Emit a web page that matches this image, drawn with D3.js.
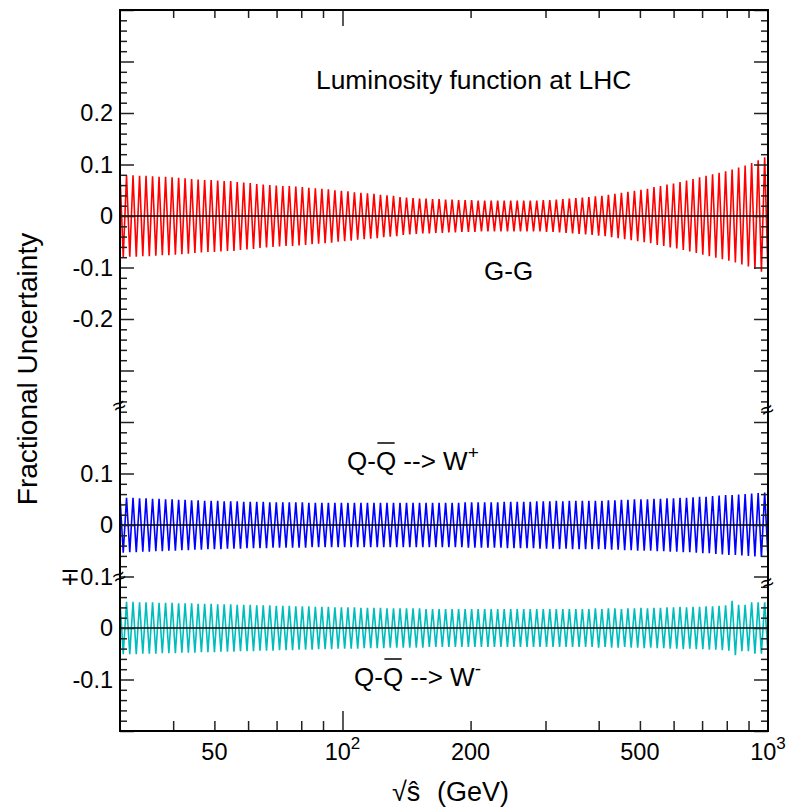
<!DOCTYPE html>
<html><head><meta charset="utf-8">
<script src="https://cdn.jsdelivr.net/npm/d3@7"></script>
<style>
body{margin:0;background:#fff}
svg{display:block}
text{font-family:"Liberation Sans",Arial,Helvetica,sans-serif;fill:#000}
</style>
</head><body>
<svg id="c" width="788" height="809"></svg>
<script>
// sqrt(s-hat) sampling points (GeV)
const sqrtS = [30.00,30.53,31.08,31.63,32.19,32.76,33.35,33.94,34.54,35.16,
35.78,36.42,37.06,37.72,38.39,39.08,39.77,40.48,41.20,41.93,
42.67,43.43,44.20,44.99,45.79,46.60,47.43,48.28,49.13,50.01,
50.90,51.80,52.72,53.66,54.61,55.58,56.57,57.58,58.60,59.64,
60.70,61.78,62.88,64.00,65.13,66.29,67.47,68.67,69.89,71.13,
72.40,73.68,74.99,76.33,77.68,79.06,80.47,81.90,83.35,84.84,
86.34,87.88,89.44,91.03,92.65,94.29,95.97,97.68,99.41,101.18,
102.98,104.81,106.67,108.57,110.50,112.46,114.46,116.50,118.57,120.68,
122.82,125.01,127.23,129.49,131.79,134.13,136.52,138.94,141.41,143.93,
146.49,149.09,151.74,154.44,157.18,159.98,162.82,165.72,168.66,171.66,
174.71,177.82,180.98,184.20,187.47,190.80,194.19,197.65,201.16,204.73,
208.37,212.08,215.85,219.68,223.59,227.56,231.61,235.72,239.91,244.18,
248.52,252.94,257.43,262.01,266.66,271.40,276.23,281.14,286.14,291.22,
296.40,301.67,307.03,312.49,318.04,323.69,329.45,335.30,341.26,347.33,
353.50,359.78,366.18,372.69,379.31,386.05,392.91,399.90,407.01,414.24,
421.60,429.10,436.72,444.49,452.39,460.43,468.61,476.94,485.42,494.05,
502.83,511.77,520.86,530.12,539.54,549.13,558.89,568.83,578.94,589.23,
599.70,610.36,621.21,632.25,643.49,654.93,666.57,678.42,690.48,702.75,
715.24,727.95,740.89,754.06,767.47,781.11,794.99,809.12,823.51,838.14,
853.04,868.20,883.64,899.35,915.33,931.60,948.16,965.01,982.17,1000.0];

// fractional uncertainty amplitude, one value per up/down pair
const ggAmp = [.080,.079,.079,.078,.078,.077,.076,.076,.075,.074,
.073,.072,.071,.070,.070,.069,.068,.068,.066,.065,
.064,.062,.061,.060,.059,.058,.058,.057,.056,.055,
.054,.053,.052,.050,.049,.048,.046,.045,.044,.043,
.041,.040,.039,.037,.036,.035,.034,.034,.033,.033,
.032,.032,.031,.031,.031,.030,.030,.030,.030,.030,
.030,.030,.030,.030,.030,.031,.031,.032,.033,.034,
.035,.036,.037,.038,.039,.041,.043,.045,.047,.049,
.051,.053,.056,.058,.061,.063,.066,.069,.072,.075,
.078,.081,.084,.087,.090,.094,.098,.103,.108,.114];

const wpAmp = [.054,.053,.053,.052,.052,.051,.051,.050,.050,.049,
.049,.048,.048,.047,.047,.047,.046,.046,.046,.045,
.045,.045,.045,.044,.044,.044,.044,.044,.044,.043,
.043,.043,.043,.043,.043,.043,.043,.043,.043,.043,
.043,.043,.043,.043,.043,.043,.043,.043,.043,.043,
.043,.043,.043,.044,.044,.044,.044,.044,.044,.045,
.045,.045,.045,.045,.046,.046,.046,.047,.046,.047,
.047,.047,.047,.047,.047,.048,.048,.049,.049,.050,
.050,.050,.051,.051,.052,.052,.053,.053,.054,.055,
.055,.056,.057,.058,.058,.059,.060,.061,.062,.063];

const wmAmp = [.051,.051,.051,.050,.050,.050,.049,.049,.049,.048,
.048,.048,.047,.047,.047,.046,.046,.046,.045,.045,
.045,.044,.044,.044,.043,.043,.043,.042,.042,.042,
.041,.041,.041,.040,.040,.040,.040,.039,.039,.039,
.039,.038,.038,.038,.038,.038,.038,.037,.037,.037,
.037,.037,.037,.037,.037,.037,.037,.037,.037,.037,
.037,.037,.037,.037,.037,.037,.037,.037,.037,.037,
.037,.037,.037,.038,.037,.038,.038,.037,.038,.038,
.039,.038,.039,.039,.040,.040,.041,.040,.041,.041,
.042,.042,.043,.044,.053,.045,.045,.050,.050,.050];

const xMinorTicks = [40,50,60,70,80,90,200,300,400,500,600,700,800,900];
const xMajorTicks = [100];
const xTickLabels = [["50",50,""],["10",100,"2"],["200",200,""],["500",500,""],["10",1000,"3"]];

// panels: offset of each zero line on the common vertical scale
const panelNames = ["G-G","W+","W-"];
const panelOffsets = [0,-0.6,-0.8];
const panelColors = ["#ff0000","#0000ff","#00bdbd"];
const panelAmps = [ggAmp,wpAmp,wmAmp];

// y tick labels: [text, value on common scale]
const yTickLabels = [["0.2",0.2],["0.1",0.1],["0",0],["-0.1",-0.1],["-0.2",-0.2],
  ["0.1",-0.5],["0",-0.6],["\u22130.1",-0.7],["0",-0.8],["-0.1",-0.9]];
const breakLeft = [-0.368,-0.700];
const breakRight = [-0.376,-0.712];

const svg = d3.select("#c");
const L=120,R=768,T=10,B=731;
const x = d3.scaleLog().domain([30,1000]).range([L,R]);
const y = d3.scaleLinear().domain([-1.0,0.4]).range([B,T]);

// zigzag bands
panelAmps.forEach((amp,p)=>{
  const pts = sqrtS.map((s,k)=>[s,(k%2===0?1:-1)*amp[k>>1]]);
  svg.append("path")
    .attr("d", d3.line().x(d=>x(d[0])).y(d=>y(d[1]+panelOffsets[p]))(pts))
    .attr("fill","none").attr("stroke",panelColors[p]).attr("stroke-width",1.6)
    .attr("stroke-linejoin","miter");
});
// zero lines
panelOffsets.forEach(o=>{
  svg.append("line").attr("x1",L).attr("x2",R).attr("y1",y(o)).attr("y2",y(o))
    .attr("stroke","#000").attr("stroke-width",1.3);
});

// y ticks
const allY = d3.range(0,71).map(i=>+(-1.0+i*0.02).toFixed(2));
const yMajor = allY.filter(v=>Math.abs(Math.round(v*10)-v*10)<1e-6);
const yMinor = allY.filter(v=>!yMajor.includes(v));
function styleAxis(g){ g.select(".domain").remove(); g.selectAll("line").attr("stroke","#222").attr("stroke-width",1.5); }
svg.append("g").attr("transform",`translate(${L},0)`).call(d3.axisRight(y).tickValues(yMinor).tickSize(7).tickFormat("")).call(styleAxis);
svg.append("g").attr("transform",`translate(${L},0)`).call(d3.axisRight(y).tickValues(yMajor).tickSize(14).tickFormat("")).call(styleAxis);
svg.append("g").attr("transform",`translate(${R},0)`).call(d3.axisLeft(y).tickValues(yMinor).tickSize(7).tickFormat("")).call(styleAxis);
svg.append("g").attr("transform",`translate(${R},0)`).call(d3.axisLeft(y).tickValues(yMajor).tickSize(14).tickFormat("")).call(styleAxis);
// x ticks
svg.append("g").attr("transform",`translate(0,${B})`).call(d3.axisTop(x).tickValues(xMinorTicks).tickSize(10).tickFormat("")).call(styleAxis);
svg.append("g").attr("transform",`translate(0,${B})`).call(d3.axisTop(x).tickValues(xMajorTicks).tickSize(20).tickFormat("")).call(styleAxis);
svg.append("g").attr("transform",`translate(0,${T})`).call(d3.axisBottom(x).tickValues(xMinorTicks).tickSize(8).tickFormat("")).call(styleAxis);
svg.append("g").attr("transform",`translate(0,${T})`).call(d3.axisBottom(x).tickValues(xMajorTicks).tickSize(16).tickFormat("")).call(styleAxis);

// frame
svg.append("rect").attr("x",L).attr("y",T).attr("width",R-L).attr("height",B-T)
  .attr("fill","none").attr("stroke","#000").attr("stroke-width",2);

// break marks
function brk(xp,v){
  svg.append("text").attr("x",xp).attr("y",y(v)).attr("text-anchor","middle")
    .attr("dominant-baseline","central").attr("font-size",22)
    .attr("transform",`rotate(-25,${xp},${y(v)})`).text("\u2248");
}
breakLeft.forEach(v=>brk(L-1,v));
breakRight.forEach(v=>brk(R-1,v));

// y tick labels
yTickLabels.forEach(([t,v])=>{
  svg.append("text").attr("x",113).attr("y",y(v)).attr("text-anchor","end")
    .attr("dominant-baseline","central").attr("font-size",23.5).text(t);
});
// x tick labels
xTickLabels.forEach(([t,v,sup])=>{
  const tx = svg.append("text").attr("x",x(v)).attr("y",760).attr("text-anchor","middle").attr("font-size",23.5);
  tx.append("tspan").text(t);
  if(sup) tx.append("tspan").attr("font-size",17).attr("dy",-11).text(sup);
});

// axis titles
svg.append("text").attr("transform","translate(37,369) rotate(-90)").attr("text-anchor","middle")
  .attr("font-size",28).text("Fractional Uncertainty");
svg.append("text").attr("x",392).attr("y",801).attr("font-size",27).text("\u221A\u015D");
svg.append("text").attr("x",437).attr("y",801).attr("font-size",27).text("(GeV)");

// title and band labels
svg.append("text").attr("x",316).attr("y",89).attr("font-size",26.4).text("Luminosity function at LHC");
svg.append("text").attr("x",484).attr("y",280).attr("font-size",26).text("G-G");

function qqLabel(x0,base,sup){
  const t = svg.append("text").attr("x",x0).attr("y",base).attr("font-size",26);
  t.append("tspan").text("Q-");
  t.append("tspan").text("Q");
  t.append("tspan").text(" --> W");
  t.append("tspan").attr("font-size",19).attr("dy",-11).text(sup);
  const node = t.node();
  const start = node.getStartPositionOfChar(2).x;
  const end = node.getEndPositionOfChar(2).x;
  svg.append("line").attr("x1",start+1.5).attr("x2",end-1.5).attr("y1",base-27).attr("y2",base-27)
    .attr("stroke","#000").attr("stroke-width",1.5);
}
qqLabel(347,470,"+");
qqLabel(354,686,"-");
</script>
</body></html>
